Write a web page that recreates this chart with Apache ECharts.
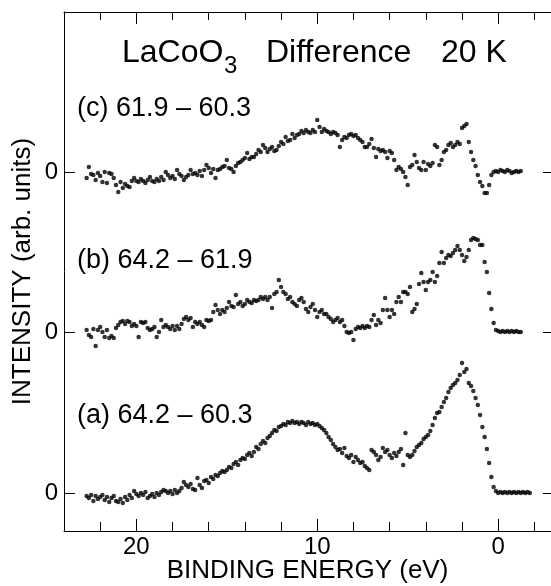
<!DOCTYPE html>
<html><head><meta charset="utf-8">
<script src="https://cdn.jsdelivr.net/npm/echarts@6/dist/echarts.min.js"></script>
<style>html,body{margin:0;padding:0;background:#fff}#c{width:551px;height:586px}</style>
</head><body><div id="c"></div>
<script>
// Binding energies (eV) shared by the three spectra
const energy = [
22.75,22.625,22.5,22.375,22.25,22.125,
22,21.875,21.75,21.625,21.5,21.375,21.25,21.125,
21,20.875,20.75,20.625,20.5,20.375,20.25,20.125,
20,19.875,19.75,19.625,19.5,19.375,19.25,19.125,
19,18.875,18.75,18.625,18.5,18.375,18.25,18.125,
18,17.875,17.75,17.625,17.5,17.375,17.25,17.125,
17,16.875,16.75,16.625,16.5,16.375,16.25,16.125,
16,15.875,15.75,15.625,15.5,15.375,15.25,15.125,
15,14.875,14.75,14.625,14.5,14.375,14.25,14.125,
14,13.875,13.75,13.625,13.5,13.375,13.25,13.125,
13,12.875,12.75,12.625,12.5,12.375,12.25,12.125,
12,11.875,11.75,11.625,11.5,11.375,11.25,11.125,
11,10.875,10.75,10.625,10.5,10.375,10.25,10.125,
10,9.875,9.75,9.625,9.5,9.375,9.25,9.125,
9,8.875,8.75,8.625,8.5,8.375,8.25,8.125,
8,7.875,7.75,7.625,7.5,7.375,7.25,7.125,
7,6.875,6.75,6.625,6.5,6.375,6.25,6.125,
6,5.875,5.75,5.625,5.5,5.375,5.25,5.125,
5,4.875,4.75,4.625,4.5,4.375,4.25,4.125,
4,3.875,3.75,3.625,3.5,3.375,3.25,3.125,
3,2.875,2.75,2.625,2.5,2.375,2.25,2.125,
2,1.875,1.75,1.625,1.5,1.375,1.25,1.125,
1,0.875,0.75,0.625,0.5,0.375,0.25,0.125,
0,-0.125,-0.25,-0.375,-0.5,-0.625,-0.75,-0.875,
-1,-1.125,-1.25,-1.375,-1.5,-1.625,-1.75];

// (a) 64.2 - 60.3
const seriesA = [
-3,-5,-2,-8,-3,-6,
-4,-2,-7,-4,-9,-5,-3,-8,
-9,-6,-10,-4,-7,-2,-5,2,
-1,-3,0,-2,1,-5,-3,-1,
-4,0,-2,1,3,2,0,2,
-1,3,0,2,5,11,8,6,
9,4,3,15,8,5,12,13,
10,16,14,18,17,20,22,21,
23,26,25,29,31,28,33,35,
34,38,40,37,41,46,44,49,
52,50,55,57,60,63,62,66,
67,69,68,71,70,72,70,71,
69,71,70,68,71,69,70,68,
69,67,65,63,60,56,53,49,
46,43,44,40,45,37,35,38,
31,36,33,30,31,27,25,23,
43,41,38,33,36,45,41,43,
38,35,40,37,41,44,28,60,
38,36,38,42,46,48,50,54,
56,58,62,68,75,80,81,86,
91,95,101,105,108,110,113,118,
130,121,124,110,107,102,95,88,
78,66,56,44,30,16,6,2,
0,1,0,1,0,1,0,1,
0,1,0,1,0,1,0];

// (b) 64.2 - 61.9
const seriesB = [
2,-3,-5,3,-14,2,
5,0,-5,2,-6,-4,-6,4,
7,10,11,8,11,10,6,8,
6,-5,10,9,10,4,2,3,
5,-5,0,12,5,7,5,3,
6,2,6,3,8,13,15,12,
14,5,10,8,10,7,5,12,
11,12,20,27,22,18,22,20,
24,30,26,25,37,28,30,26,
28,32,30,29,32,31,32,35,
33,35,32,35,24,38,40,52,
45,40,38,33,35,30,28,26,
32,34,30,23,20,25,28,22,
15,20,22,18,18,15,13,10,
12,14,10,12,6,0,-1,0,
-8,3,5,4,6,4,6,5,
12,17,7,12,9,22,34,22,
15,22,18,30,35,30,40,40,
38,45,20,23,28,48,59,50,
42,50,52,60,50,56,69,80,
69,74,77,76,79,82,86,82,
77,71,75,82,92,94,93,92,
87,87,70,60,39,23,9,2,
1,0,1,0,1,0,1,0,
1,0,0];

// (c) 61.9 - 60.3
const seriesC = [
-6,5,-2,-3,-8,-1,
-4,-10,0,-11,-1,-2,-6,-13,
-20,-10,-16,-12,-14,-15,-9,-6,
-9,-10,-7,-9,-11,-8,-5,-9,
-10,-7,-9,-5,-8,0,-3,-6,
-4,-7,2,-2,-4,-8,-5,-3,
2,-2,-1,-3,1,-4,2,7,
4,-1,3,-6,2,3,5,6,
12,4,3,0,6,9,10,12,
14,19,13,15,15,18,22,20,
27,24,20,23,25,21,22,26,
30,28,35,31,32,38,34,37,
38,41,39,42,40,39,42,40,
52,45,40,43,41,40,38,40,
39,37,25,32,35,34,37,38,
36,37,34,32,30,25,25,28,
33,24,15,23,21,22,20,14,
21,19,12,2,5,3,0,-5,
-13,5,7,17,10,4,2,10,
2,8,6,9,27,25,7,12,
20,22,27,29,25,27,30,28,
44,46,48,30,20,12,6,-3,
-10,-14,-21,-21,-13,-3,0,1,
0,2,1,0,2,1,-1,0,
1,0,1];

const seriesNames = ['(a) 64.2 \u2013 60.3', '(b) 64.2 \u2013 61.9', '(c) 61.9 \u2013 60.3'];
const seriesOffsets = [0, 161, 321];       // vertical offset of each spectrum
const yZeroTicks = [0, 161, 321];          // the three "0" ticks
const xMajorTicks = [20, 10, 0];
const xMinorTicks = [22, 18, 16, 14, 12, 8, 6, 4, 2, -2];
const titleParts = ['LaCoO', '3', 'Difference', '20 K'];
const xTitle = 'BINDING ENERGY (eV)';
const yTitle = 'INTENSITY (arb. units)';

const FONT = "'Liberation Sans', Arial, sans-serif";
const chart = echarts.init(document.getElementById('c'), null, {renderer: 'canvas'});

function pts(vals, off) {
  return vals.map((v, i) => [energy[i], v + off]);
}
const allVals = [seriesA, seriesB, seriesC];

const X_MIN = -2.92, X_MAX = 24, Y_MIN = -38, Y_MAX = 481;
const blk = '#000';
function xAx(pos, len, ticks, showLine, showLabel) {
  return {
    type: 'value', position: pos, min: X_MIN, max: X_MAX, inverse: true, offset: 0,
    axisLine: {show: showLine, onZero: false, lineStyle: {color: blk, width: 1}},
    axisTick: {show: true, inside: true, length: len, customValues: ticks, lineStyle: {color: blk, width: 1}},
    axisLabel: {show: showLabel, customValues: ticks, fontSize: 24, color: blk, fontFamily: FONT, margin: 4},
    splitLine: {show: false}
  };
}

const option = {
  animation: false,
  backgroundColor: '#fff',
  grid: {left: 64, top: 12, right: -1, bottom: 55},
  xAxis: [
    xAx('bottom', 12, xMajorTicks, true, true),
    xAx('bottom', 9, xMinorTicks, false, false),
    xAx('top', 12, xMajorTicks, true, false),
    xAx('top', 8, xMinorTicks, false, false)
  ],
  yAxis: [
    {type: 'value', position: 'left', min: Y_MIN, max: Y_MAX,
     axisLine: {show: true, onZero: false, lineStyle: {color: blk, width: 1}},
     axisTick: {show: true, inside: true, length: 11, customValues: yZeroTicks, lineStyle: {color: blk}},
     axisLabel: {show: true, customValues: yZeroTicks, formatter: () => '0', fontSize: 24, color: blk, fontFamily: FONT, margin: 6},
     splitLine: {show: false}},
    {type: 'value', position: 'right', min: Y_MIN, max: Y_MAX,
     axisLine: {show: true, onZero: false, lineStyle: {color: blk, width: 1}},
     axisTick: {show: true, inside: true, length: 8, customValues: yZeroTicks, lineStyle: {color: blk}},
     axisLabel: {show: false},
     splitLine: {show: false}}
  ],
  series: allVals.map((vals, k) => ({
    name: seriesNames[k], type: 'scatter', xAxisIndex: 0, yAxisIndex: 0,
    symbol: 'circle', symbolSize: 4.5, itemStyle: {color: blk},
    data: pts(vals, seriesOffsets[k])
  })),
  graphic: [
    {type: 'text', left: 122, top: 37, style: {text: titleParts[0], font: '32px ' + FONT, fill: blk}},
    {type: 'text', left: 224, top: 54, style: {text: titleParts[1], font: '24px ' + FONT, fill: blk}},
    {type: 'text', left: 266, top: 37, style: {text: titleParts[2], font: '32px ' + FONT, fill: blk}},
    {type: 'text', left: 441, top: 37, style: {text: titleParts[3], font: '32px ' + FONT, fill: blk}},
    {type: 'text', left: 77, top: 95, style: {text: seriesNames[2], font: '27px ' + FONT, fill: blk}},
    {type: 'text', left: 77, top: 247, style: {text: seriesNames[1], font: '27px ' + FONT, fill: blk}},
    {type: 'text', left: 77, top: 402, style: {text: seriesNames[0], font: '27px ' + FONT, fill: blk}},
    {type: 'text', x: 307.5, y: 571,
     style: {text: xTitle, font: '26px ' + FONT, fill: blk, align: 'center', verticalAlign: 'middle'}},
    {type: 'text', x: 23, y: 271.5, rotation: Math.PI / 2,
     style: {text: yTitle, font: '26px ' + FONT, fill: blk, align: 'center', verticalAlign: 'middle'}}
  ]
};
chart.setOption(option);
</script></body></html>
